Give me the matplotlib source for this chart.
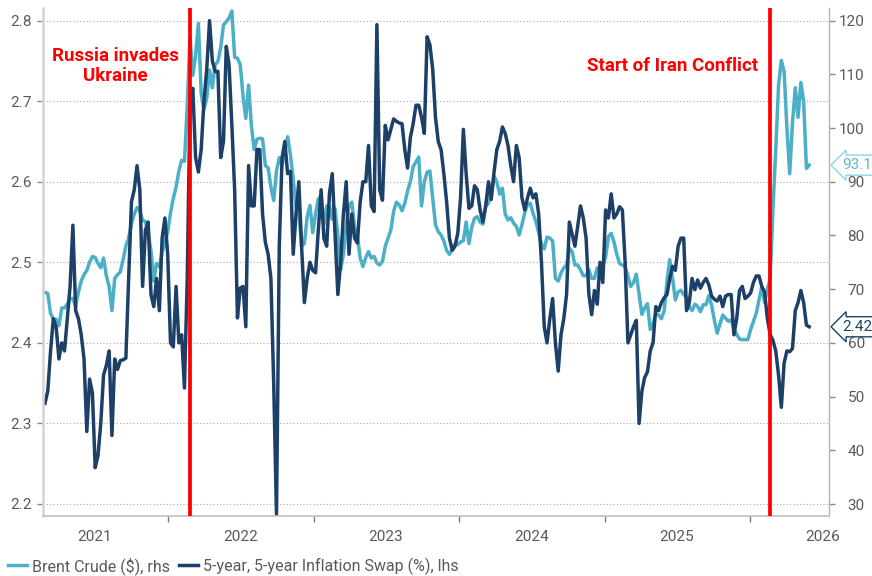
import matplotlib
matplotlib.use('Agg')
import matplotlib.pyplot as plt
import matplotlib.dates as mdates
from matplotlib.ticker import FormatStrFormatter, NullFormatter
import numpy as np, pandas as pd

plt.rcParams['font.family'] = ['Roboto', 'DejaVu Sans']

# weekly observations, first one on this date
start_date = '2021-02-26'

# 5-year, 5-year inflation swap (%), left axis
swap_5y5y = [
    2.325, 2.34, 2.39, 2.43, 2.42, 2.38, 2.40, 2.39, 2.43, 2.47,
    2.546, 2.44, 2.43, 2.41, 2.38, 2.29, 2.355, 2.338, 2.245, 2.26,
    2.30, 2.36, 2.372, 2.39, 2.285, 2.38, 2.367, 2.378, 2.379, 2.381,
    2.48, 2.575, 2.59, 2.62, 2.59, 2.47, 2.54, 2.55, 2.46, 2.445,
    2.48, 2.44, 2.53, 2.555, 2.51, 2.40, 2.395, 2.47, 2.40, 2.41,
    2.344, 2.48, 2.70, 2.716, 2.63, 2.612, 2.64, 2.70, 2.74, 2.80,
    2.75, 2.737, 2.737, 2.63, 2.65, 2.768, 2.745, 2.67, 2.59, 2.431,
    2.468, 2.47, 2.42, 2.62, 2.57, 2.57, 2.64, 2.64, 2.56, 2.525,
    2.51, 2.48, 2.35, 2.187, 2.52, 2.63, 2.65, 2.61, 2.613, 2.51,
    2.56, 2.60, 2.52, 2.45, 2.48, 2.50, 2.49, 2.487, 2.54, 2.59,
    2.53, 2.52, 2.586, 2.61, 2.536, 2.46, 2.50, 2.56, 2.60, 2.51,
    2.56, 2.53, 2.524, 2.575, 2.60, 2.60, 2.645, 2.57, 2.563, 2.795,
    2.59, 2.577, 2.67, 2.652, 2.665, 2.678, 2.675, 2.673, 2.672, 2.64,
    2.617, 2.655, 2.672, 2.695, 2.695, 2.68, 2.66, 2.78, 2.77, 2.74,
    2.68, 2.65, 2.64, 2.61, 2.575, 2.53, 2.515, 2.52, 2.536, 2.58,
    2.665, 2.61, 2.567, 2.57, 2.595, 2.59, 2.565, 2.55, 2.57, 2.60,
    2.578, 2.612, 2.64, 2.65, 2.668, 2.66, 2.645, 2.62, 2.60, 2.645,
    2.63, 2.58, 2.565, 2.58, 2.592, 2.58, 2.585, 2.56, 2.50, 2.42,
    2.40, 2.43, 2.455, 2.40, 2.365, 2.41, 2.43, 2.46, 2.55, 2.535,
    2.52, 2.545, 2.57, 2.555, 2.53, 2.46, 2.435, 2.465, 2.448, 2.50,
    2.475, 2.565, 2.555, 2.585, 2.555, 2.56, 2.569, 2.565, 2.50, 2.40,
    2.41, 2.42, 2.428, 2.30, 2.34, 2.357, 2.364, 2.39, 2.40, 2.445,
    2.44, 2.45, 2.456, 2.46, 2.48, 2.495, 2.49, 2.52, 2.53, 2.53,
    2.44, 2.45, 2.48, 2.466, 2.478, 2.468, 2.475, 2.48, 2.472, 2.458,
    2.454, 2.452, 2.458, 2.445, 2.458, 2.46, 2.46, 2.41, 2.43, 2.465,
    2.47, 2.455, 2.458, 2.462, 2.475, 2.483, 2.483, 2.47, 2.463, 2.43,
    2.41, 2.403, 2.39, 2.36, 2.32, 2.375, 2.39, 2.389, 2.393, 2.44,
    2.45, 2.465, 2.45, 2.422, 2.42,
]

# Brent crude ($), right axis
brent = [
    69.4, 69.2, 65.5, 64.4, 64.4, 63.2, 66.5, 66.5, 67.2, 68.2,
    68.3, 66.8, 69.5, 71.5, 72.7, 73.5, 75.0, 76.1, 75.9, 74.8,
    74.0, 75.8, 72.5, 70.5, 66.0, 72.0, 72.7, 73.2, 75.5, 78.0,
    79.6, 82.2, 84.0, 85.2, 84.6, 82.8, 82.6, 80.6, 77.2, 71.5,
    74.8, 74.2, 76.8, 78.8, 80.6, 84.2, 86.9, 89.0, 92.0, 94.0,
    93.8, 104.0, 117.0, 109.8, 113.5, 119.5, 106.5, 103.5, 105.5, 110.8,
    107.5, 111.8, 112.4, 115.0, 119.2, 119.8, 120.5, 121.8, 113.2, 113.0,
    111.8, 106.0, 101.8, 108.0, 100.5, 96.0, 97.9, 98.1, 98.0, 93.0,
    92.6, 89.0, 86.5, 92.0, 94.5, 93.0, 96.0, 98.4, 95.0, 90.5,
    85.4, 84.3, 78.0, 78.5, 83.5, 85.6, 80.5, 84.0, 86.8, 87.4,
    82.0, 85.5, 85.4, 83.0, 85.0, 80.0, 73.6, 76.5, 81.7, 85.5,
    86.2, 81.6, 80.0, 75.8, 74.2, 75.9, 77.0, 75.8, 76.1, 74.9,
    74.5, 75.2, 78.0, 79.5, 81.0, 84.5, 86.2, 85.7, 84.6, 86.0,
    88.3, 90.0, 92.8, 93.7, 94.6, 85.5, 90.0, 91.8, 92.0, 87.0,
    82.0, 80.7, 80.1, 79.0, 77.2, 76.5, 77.3, 78.4, 78.3, 78.8,
    79.0, 82.5, 78.5, 81.5, 83.2, 83.5, 82.5, 82.1, 85.4, 86.0,
    87.9, 91.0, 90.0, 87.7, 88.8, 84.0, 82.9, 83.3, 82.3, 81.7,
    80.1, 82.0, 84.2, 85.8, 86.0, 84.1, 82.6, 80.5, 78.4, 77.5,
    79.7, 79.5, 79.0, 72.0, 71.5, 73.0, 74.0, 74.5, 77.6, 77.0,
    74.5, 74.5, 73.6, 72.5, 72.5, 73.6, 72.0, 72.0, 74.0, 73.0,
    74.2, 76.0, 79.8, 80.4, 78.8, 76.5, 74.8, 74.5, 74.2, 72.5,
    70.5, 71.2, 72.8, 69.0, 65.3, 66.5, 67.3, 62.5, 63.6, 65.5,
    65.2, 64.5, 66.0, 71.5, 75.5, 72.0, 68.0, 69.5, 69.8, 69.0,
    68.5, 66.8, 66.0, 67.2, 66.8, 65.8, 67.1, 67.1, 68.8, 67.0,
    64.2, 61.8, 63.5, 65.2, 64.6, 64.0, 64.3, 62.6, 61.6, 60.7,
    60.6, 60.6, 60.6, 62.5, 64.0, 65.5, 68.0, 70.5, 67.5, 70.0,
    72.0, 85.0, 96.0, 108.0, 112.6, 110.5, 100.0, 91.5, 101.0, 107.5,
    102.0, 108.5, 105.0, 92.5, 93.1,
]

event_dates = ['2022-02-24', '2026-02-20']
event_labels = ['Russia invades\nUkraine', 'Start of Iran Conflict']

dates = pd.date_range(start_date, periods=len(swap_5y5y), freq='7D')

TEAL = '#4bafc8'
NAVY = '#1c4068'
GREY = '#595959'

fig = plt.figure(figsize=(8.72, 5.76), dpi=100)
ax1 = fig.add_axes([0.0493, 0.1042, 0.9011, 0.8811])
ax2 = ax1.twinx()
ax1.set_zorder(ax2.get_zorder() + 1)
ax1.patch.set_visible(False)

l2, = ax2.plot(dates, brent, color=TEAL, lw=2.5, label='Brent Crude ($), rhs')
l1, = ax1.plot(dates, swap_5y5y, color=NAVY, lw=2.5,
               label='5-year, 5-year Inflation Swap (%), lhs')

for d, txt, dx in zip(event_dates, event_labels, [-7.5, -9]):
    d = pd.Timestamp(d)
    ax1.axvline(d, color='red', lw=2.7, zorder=6)
    ax1.annotate(txt, xy=(d, 2.744), xytext=(dx, 0), textcoords='offset points',
                 ha='right', va='center', multialignment='center',
                 color='red', fontsize=13.5, fontweight='bold', linespacing=1.15)

# axes ranges
ax1.set_xlim(pd.Timestamp('2021-02-21'), pd.Timestamp('2026-07-17'))
ax1.set_ylim(2.1851, 2.8151)
ax2.set_ylim(27.77, 122.27)
ax1.set_yticks(np.arange(2.2, 2.81, 0.1))
ax1.yaxis.set_major_formatter(FormatStrFormatter('%.1f'))
ax2.set_yticks(range(30, 121, 10))

ax1.grid(axis='y', linestyle=(0, (1, 2)), color='#aaaaaa', lw=0.8)
ax2.grid(False)

ax1.xaxis.set_major_locator(mdates.YearLocator())
ax1.xaxis.set_major_formatter(NullFormatter())
ax1.xaxis.set_minor_locator(mdates.MonthLocator(bymonth=7, bymonthday=1))
ax1.xaxis.set_minor_formatter(mdates.DateFormatter('%Y'))
ax1.tick_params(axis='x', which='major', length=4, width=1, color='#777777')
ax1.tick_params(axis='x', which='minor', length=0, pad=10, labelsize=11, labelcolor=GREY)
ax1.tick_params(axis='y', length=4, width=1, color='#888888', pad=4,
                labelsize=11, labelcolor=GREY)
ax2.tick_params(axis='y', length=4, width=1, color='#888888', pad=22,
                labelsize=11, labelcolor=GREY)
plt.setp(ax2.get_yticklabels(), ha='right')

for ax in (ax1, ax2):
    ax.spines['top'].set_visible(False)
ax1.spines['right'].set_visible(False)
ax2.spines['left'].set_visible(False)
ax2.spines['bottom'].set_visible(False)
ax1.spines['left'].set_color('#d4d4d4')
ax1.spines['left'].set_linewidth(1.8)
ax1.spines['bottom'].set_color('#c0c0c0')
ax1.spines['bottom'].set_linewidth(1.2)
ax2.spines['right'].set_color('#b4b4b4')
ax2.spines['right'].set_linewidth(1)

# last values
ax2.annotate(f'{brent[-1]:.1f}', xy=(1, brent[-1]), xycoords=('axes fraction', 'data'),
             xytext=(9.5, 0), textcoords='offset points', ha='left', va='center',
             color='#5ab8d4', fontsize=11, annotation_clip=False, zorder=10,
             bbox=dict(boxstyle='larrow,pad=0.2', fc='white', ec='#8fd3ea', lw=1))
ax1.annotate(f'{swap_5y5y[-1]:.2f}', xy=(1, swap_5y5y[-1]), xycoords=('axes fraction', 'data'),
             xytext=(9.5, 0), textcoords='offset points', ha='left', va='center',
             color=NAVY, fontsize=11, annotation_clip=False, zorder=10,
             bbox=dict(boxstyle='larrow,pad=0.2', fc='white', ec=NAVY, lw=1))

fig.legend(handles=[l2, l1], loc='lower left', bbox_to_anchor=(0.005, -0.003),
           ncol=2, frameon=False, fontsize=11.5, handlelength=1.2,
           handletextpad=0.3, columnspacing=0.6, borderaxespad=0, borderpad=0.2,
           labelcolor=GREY)

fig.savefig('out.png', dpi=100)
